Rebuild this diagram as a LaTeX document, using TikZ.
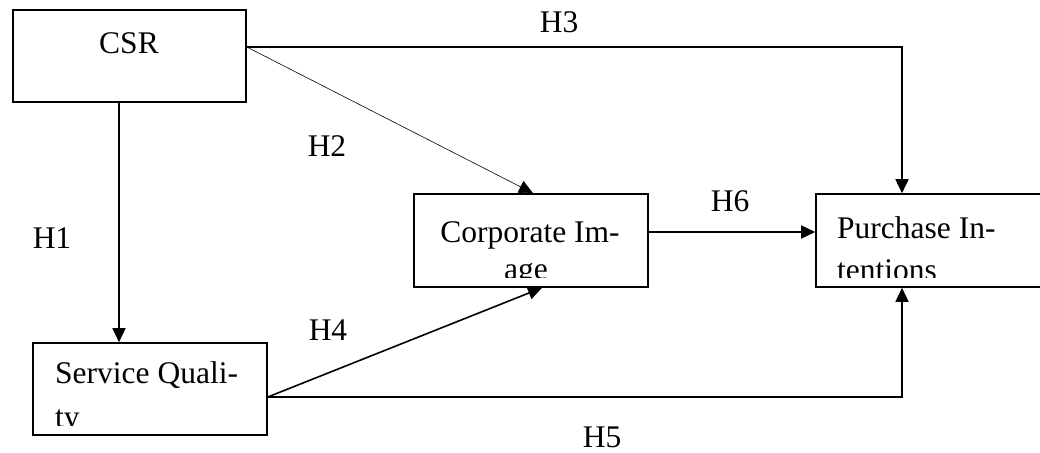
\documentclass[tikz,border=0pt]{standalone}
\usepackage{fontspec}
\setmainfont{Liberation Serif}
\usetikzlibrary{arrows.meta}
\begin{document}
\begin{tikzpicture}[x=1pt,y=-1pt,
  box/.style={draw, line width=1.6pt, rectangle, inner sep=0pt},
  txt/.style={inner sep=0pt, font=\fontsize{31.5}{38}\selectfont},
  link/.style={line width=1.6pt, -{Triangle[length=14pt,width=13pt]}},
  thinlink/.style={line width=0.6pt, -{Triangle[length=14pt,width=13pt]}}]
\useasboundingbox[fill=white] (0,0) rectangle (1040,452);

% boxes
\node[box, minimum width=233pt, minimum height=92pt] (csr) at (129.5,56) {};
\node[box, minimum width=234pt, minimum height=92pt] (sq)  at (150,389) {};
\node[box, minimum width=234pt, minimum height=93pt] (ci)  at (531,240.5) {};
\node[box, minimum width=234pt, minimum height=93pt] (pi)  at (933,240.5) {};

% box texts (second lines are cut by the box's lower margin)
\node[txt, anchor=base] (csrt) at (129,53) {CSR};
\begin{scope}
  \clip (sq.north west) rectangle ([yshift=10pt]sq.south east);
  \node[txt, anchor=base west] (sqa) at (55,383) {Service Quali-};
  \node[txt, anchor=base west] (sqb) at (55,427) {ty};
\end{scope}
\begin{scope}
  \clip (ci.north west) rectangle ([yshift=10pt]ci.south east);
  \node[txt, anchor=base] (cia) at (530,242) {Corporate Im-};
  \node[txt, anchor=base] (cib) at (526,279) {age};
\end{scope}
\begin{scope}
  \clip (pi.north west) rectangle ([yshift=10pt]pi.south east);
  \node[txt, anchor=base west] (pia) at (837,238) {Purchase In-};
  \node[txt, anchor=base west] (pib) at (837,280) {tentions};
\end{scope}

% connectors
\draw[link] ([xshift=-10.5pt]csr.south) -- ([xshift=-31pt]sq.north);
\draw[thinlink] ([yshift=9pt]csr.east) -- ([xshift=2pt]ci.north);
\draw[link] ([yshift=9pt]csr.east) -| ([xshift=-31pt]pi.north);
\draw[link] ([yshift=-8pt]sq.east) -- ([xshift=11pt]ci.south);
\draw[link] ([yshift=-8pt]sq.east) -| ([xshift=-31pt]pi.south);
\draw[link] ([yshift=8.5pt]ci.east) -- ([yshift=8.5pt]pi.west);

% hypothesis labels
\node[txt, anchor=base] (h1) at (52,248) {H1};
\node[txt, anchor=base] (h2) at (327,156) {H2};
\node[txt, anchor=base] (h3) at (559,33) {H3};
\node[txt, anchor=base] (h4) at (328,340) {H4};
\node[txt, anchor=base] (h5) at (602,447) {H5};
\node[txt, anchor=base] (h6) at (730,211) {H6};
\end{tikzpicture}
\end{document}
